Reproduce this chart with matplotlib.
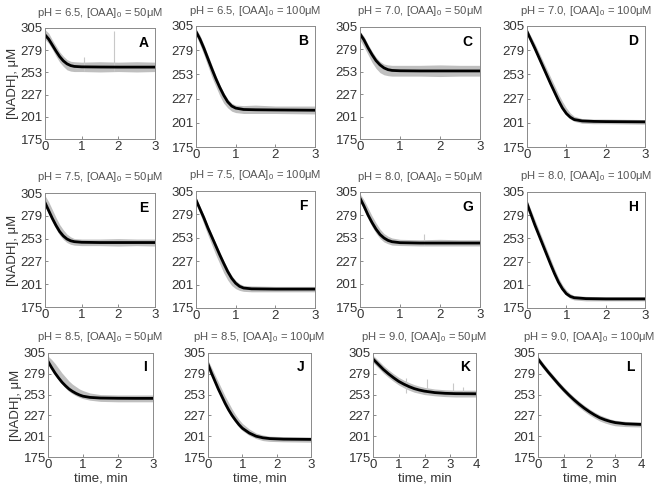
import matplotlib
matplotlib.use("Agg")
import matplotlib.pyplot as plt

plt.rcParams["font.family"] = ["Liberation Sans", "DejaVu Sans"]
plt.rcParams["mathtext.default"] = "regular"

# panel titles (pH, [OAA]0)
PH = ["6.5", "6.5", "7.0", "7.0", "7.5", "7.5", "8.0", "8.0", "8.5", "8.5", "9.0", "9.0"]
OAA = ["50", "100", "50", "100", "50", "100", "50", "100", "50", "100", "50", "100"]
LETTERS = ["A", "B", "C", "D", "E", "F", "G", "H", "I", "J", "K", "L"]
XMAX = [3, 3, 3, 3, 3, 3, 3, 3, 3, 3, 4, 4]
YTICKS = [175, 201, 227, 253, 279, 305]

T_A = [0, 0.1, 0.2, 0.3, 0.4, 0.5, 0.6, 0.7, 0.8, 1.0, 1.5, 2.0, 2.5, 3.0]
FIT_A = [297, 292, 285, 278, 271.5, 266.5, 263, 261, 260, 259.5, 259.3, 259.2, 259.2, 259.2]
LO_A = [292, 287, 280, 272, 265, 260, 256, 254.5, 254, 254, 253.5, 254, 253.5, 254]
HI_A = [303, 299, 291, 284, 277, 272, 268, 266, 265.5, 265, 265.5, 265, 265.5, 265]

T_B = [0, 0.1, 0.2, 0.3, 0.4, 0.5, 0.6, 0.7, 0.8, 0.9, 1.0, 1.2, 1.5, 2.0, 3.0]
FIT_B = [299, 291, 281, 270, 259, 248.5, 239, 230.5, 223.5, 219, 216.8, 215.3, 215, 214.8, 214.5]
LO_B = [295, 285, 274, 262, 250, 240, 230, 222, 217, 213.5, 212, 211, 211, 211, 210.5]
HI_B = [302, 295, 285, 274, 263, 252, 242, 233.5, 226.5, 222, 220, 219.5, 220, 219, 219]

T_C = [0, 0.1, 0.2, 0.3, 0.4, 0.5, 0.6, 0.7, 0.8, 1.0, 1.5, 2.0, 2.5, 3.0]
FIT_C = [297, 290, 281, 273, 266, 261, 257.5, 255.5, 254.6, 254.2, 254, 254, 254, 254]
LO_C = [290, 282, 273, 264, 257, 252, 249.5, 248.5, 248, 248, 248, 247.5, 248, 248]
HI_C = [300, 294, 285, 277, 270, 265, 262, 261, 260.5, 260.5, 260.5, 261, 260.5, 260.5]

T_D = [0, 0.2, 0.4, 0.6, 0.8, 0.9, 1.0, 1.1, 1.2, 1.4, 1.7, 2.0, 3.0]
FIT_D = [299, 281, 262, 243, 225, 217, 211, 207, 204.5, 203, 202.5, 202.3, 202]
LO_D = [296, 278, 259, 240, 222, 214.5, 209, 205, 202.5, 200.5, 200, 200, 199.5]
HI_D = [302, 286, 268, 250, 232, 224, 217, 211.5, 208, 205.5, 205, 205, 204.5]

T_E = [0, 0.1, 0.2, 0.3, 0.4, 0.5, 0.6, 0.7, 0.8, 1.0, 1.5, 2.0, 2.5, 3.0]
FIT_E = [294, 285, 276, 268, 261, 256, 252.5, 250.5, 249.5, 248.8, 248.5, 248.5, 248.5, 248.5]
LO_E = [290, 281, 272, 264, 257, 252, 248.5, 246.5, 245.5, 245, 245, 244.5, 245, 244.5]
HI_E = [302, 295, 286, 277, 269, 263, 258, 255, 253, 252.5, 252.5, 253, 252.5, 252.5]

T_F = [0, 0.1, 0.2, 0.3, 0.4, 0.5, 0.6, 0.7, 0.8, 0.9, 1.0, 1.1, 1.2, 1.4, 2.0, 3.0]
FIT_F = [295, 285, 275, 264, 254, 244, 234, 224.5, 215.5, 208, 202.5, 199, 197.2, 196.3, 196, 196]
LO_F = [291, 280, 268, 256, 245, 234, 224, 214, 206, 200, 196.5, 194.5, 193.5, 193, 193, 193]
HI_F = [298, 288, 278, 267, 257, 247, 237, 227.5, 218.5, 211, 205.5, 202, 200, 199.5, 199, 199]

T_G = [0, 0.1, 0.2, 0.3, 0.4, 0.5, 0.6, 0.7, 0.8, 1.0, 1.5, 2.0, 2.5, 3.0]
FIT_G = [298, 289, 279, 270.5, 263, 257, 253, 250.3, 248.8, 247.7, 247.3, 247.3, 247.3, 247.3]
LO_G = [294, 285, 275, 266, 258.5, 252.5, 248.5, 246.5, 245, 244.5, 244, 244, 244, 244]
HI_G = [303, 296, 287, 278, 270, 263, 258, 255, 253, 251.5, 251, 251.5, 251, 251]

T_H = [0, 0.1, 0.2, 0.3, 0.4, 0.5, 0.6, 0.7, 0.8, 0.9, 1.0, 1.1, 1.2, 1.5, 2.0, 3.0]
FIT_H = [292, 280, 268, 257, 246, 235, 224, 213.5, 204, 196.5, 191, 188, 186.5, 185.5, 185.2, 185.2]
LO_H = [289, 277, 265, 254, 243, 232, 221, 211, 202, 194.5, 189, 185.5, 184, 183, 183, 183]
HI_H = [296, 285, 274, 263, 252, 241, 230, 219, 209, 201, 195, 191, 189, 188, 187.5, 187.5]

T_I = [0, 0.1, 0.2, 0.3, 0.4, 0.5, 0.6, 0.7, 0.8, 0.9, 1.0, 1.2, 1.5, 2.0, 2.5, 3.0]
FIT_I = [294.5, 287, 280, 274, 268.5, 264, 260, 257, 254.5, 252.5, 251, 249.5, 248.7, 248.4, 248.3, 248.3]
LO_I = [291, 284, 277, 271, 266, 261, 257, 254, 251.5, 249.5, 248, 246, 244.5, 244, 244, 244]
HI_I = [301, 297, 292, 286, 280, 275, 270, 266, 263, 260, 258, 255, 253, 252.5, 252.5, 252.5]

T_J = [0, 0.1, 0.2, 0.3, 0.4, 0.5, 0.6, 0.7, 0.8, 0.9, 1.0, 1.2, 1.4, 1.6, 1.8, 2.2, 3.0]
FIT_J = [291, 280, 270, 260, 251, 242, 234, 227, 221, 215.5, 211, 205, 201, 199, 198, 197.3, 197]
LO_J = [288, 277, 267, 257, 248, 239, 231, 224, 218, 212.5, 208, 202, 198, 195.5, 194.5, 194, 193.5]
HI_J = [296, 287, 278, 269, 260, 251, 243, 235, 228, 222, 217, 210, 205, 202.5, 201, 200.5, 200]

T_K = [0, 0.2, 0.4, 0.6, 0.8, 1.0, 1.2, 1.4, 1.6, 1.8, 2.0, 2.4, 2.8, 3.2, 4.0]
FIT_K = [297.5, 291, 284.5, 279, 274, 269.5, 266, 263, 260.5, 258.7, 257.3, 255.5, 254.6, 254.2, 254]
LO_K = [293, 286.5, 280, 274.5, 269.5, 265, 261.5, 258.5, 256, 254.5, 253, 251.5, 250.5, 250, 250]
HI_K = [302, 296, 289.5, 284, 279, 274.5, 271, 268, 265.5, 263.5, 262, 260, 259, 258.5, 258.5]

T_L = [0, 0.2, 0.4, 0.6, 0.8, 1.0, 1.2, 1.4, 1.6, 1.8, 2.0, 2.2, 2.4, 2.6, 2.8, 3.0, 3.4, 4.0]
FIT_L = [297.5, 289, 281, 273.5, 266, 259, 252.5, 246.5, 241, 236, 231.5, 227.5, 224, 221.5, 219.5, 218, 216.5, 215.7]
LO_L = [294, 285.5, 277.5, 270, 262.5, 255.5, 249, 242.5, 237, 232, 227.5, 223.5, 220, 217.5, 215.5, 214, 213, 212.5]
HI_L = [301, 292.5, 284.5, 277, 269.5, 262.5, 256, 250, 244.5, 239.5, 235, 231, 227.5, 225, 222.5, 221, 219.5, 219]

# isolated outlier spikes in the raw traces: (panel, time, top value)
SPIKE_PANEL = ["A", "A", "G", "K", "K", "K", "K"]
SPIKE_T = [1.05, 1.88, 1.6, 1.3, 2.1, 3.1, 3.5]
SPIKE_TOP = [271, 302, 258, 274, 272, 268, 262]

TIMES = [T_A, T_B, T_C, T_D, T_E, T_F, T_G, T_H, T_I, T_J, T_K, T_L]
FITS = [FIT_A, FIT_B, FIT_C, FIT_D, FIT_E, FIT_F, FIT_G, FIT_H, FIT_I, FIT_J, FIT_K, FIT_L]
LOWS = [LO_A, LO_B, LO_C, LO_D, LO_E, LO_F, LO_G, LO_H, LO_I, LO_J, LO_K, LO_L]
HIGHS = [HI_A, HI_B, HI_C, HI_D, HI_E, HI_F, HI_G, HI_H, HI_I, HI_J, HI_K, HI_L]

# axes boxes in pixels: left, top, right, bottom
BOXES = [
    (45, 28, 155, 139), (196, 26, 315, 147), (360, 27, 480, 139), (527, 26, 645, 147),
    (45, 193, 155, 307), (196, 191, 315, 308), (360, 192, 480, 307), (527, 192, 645, 308),
    (48, 353, 153, 457), (208, 353, 311, 457), (373, 353, 476, 457), (538, 353, 641, 457),
]

W, H = 657, 492
fig = plt.figure(figsize=(W / 100, H / 100), dpi=100)

for i, (l, t, r, b) in enumerate(BOXES):
    ax = fig.add_axes([l / W, 1 - b / H, (r - l) / W, (b - t) / H])
    ax.fill_between(TIMES[i], LOWS[i], HIGHS[i], color="#bfbfbf", lw=0)
    for p, st, top in zip(SPIKE_PANEL, SPIKE_T, SPIKE_TOP):
        if p == LETTERS[i]:
            ax.vlines(st, 255 if p != "G" else 245, top, color="#c8c8c8", lw=0.8)
    ax.plot(TIMES[i], FITS[i], color="black", lw=2.0)

    ax.set_xlim(0, XMAX[i])
    ax.set_ylim(175, 305)
    ax.set_xticks(range(XMAX[i] + 1))
    ax.set_yticks(YTICKS)
    ax.tick_params(direction="in", length=2.5, width=0.6, color="#777777",
                   labelsize=9.5, labelcolor="#333333", pad=1.5)
    for s in ax.spines.values():
        s.set_color("#8a8a8a")
        s.set_linewidth(0.7)

    ax.set_title("pH = %s, [OAA]$_0$ = %s\u03bcM" % (PH[i], OAA[i]),
                 fontsize=8.1, color="#555555", pad=9)
    ax.text(0.94, 0.93, LETTERS[i], transform=ax.transAxes, ha="right", va="top",
            fontsize=10, fontweight="bold")
    if i % 4 == 0:
        ax.set_ylabel("[NADH], \u03bcM", fontsize=9.5, color="#333333", labelpad=1)
    if i >= 8:
        ax.set_xlabel("time, min", fontsize=9.5, color="#333333", labelpad=1)

fig.savefig("out.png", dpi=100)
